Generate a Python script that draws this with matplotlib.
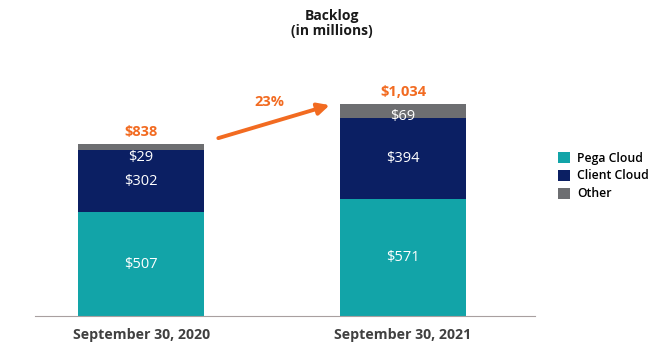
import matplotlib
matplotlib.use("Agg")
import matplotlib.pyplot as plt
import numpy as np

plt.rcParams["font.family"] = ["Open Sans", "DejaVu Sans"]

categories = ["September 30, 2020", "September 30, 2021"]
series_names = ["Pega Cloud", "Client Cloud", "Other"]
pega_cloud = [507, 571]
client_cloud = [302, 394]
other = [29, 69]

COLORS = ["#12A4A8", "#0B1F63", "#6D6E71"]
ORANGE = "#F26B21"
BAR_W = 0.48
# vertical nudge (points) of the "Other" labels relative to top of client cloud
OTHER_LABEL_OFFSETS = [-5.5, 1]


def main():
    fig = plt.figure(figsize=(6.61, 3.51), dpi=100)
    W, H = 661, 351
    ax = fig.add_axes([35 / W, 35 / H, 500 / W, 266 / H])

    x = np.arange(len(categories))
    series = [pega_cloud, client_cloud, other]
    bottom = np.zeros(len(categories))
    for vals, name, col in zip(series, series_names, COLORS):
        ax.bar(x, vals, BAR_W, bottom=bottom, color=col, label=name,
               edgecolor="none")
        bottom += np.array(vals)
    totals = bottom

    # value labels inside segments
    for i in range(len(categories)):
        ax.text(x[i], pega_cloud[i] / 2, f"${pega_cloud[i]:,}", ha="center",
                va="center", color="white", fontsize=10.5)
        ax.text(x[i], pega_cloud[i] + client_cloud[i] / 2, f"${client_cloud[i]:,}",
                ha="center", va="center", color="white", fontsize=10.5)
        ax.annotate(f"${other[i]:,}", (x[i], pega_cloud[i] + client_cloud[i]),
                    xytext=(0, OTHER_LABEL_OFFSETS[i]), textcoords="offset points",
                    ha="center", va="center", color="white", fontsize=10.5)
        ax.annotate(f"${int(totals[i]):,}", (x[i], totals[i]), xytext=(0, 9),
                    textcoords="offset points", ha="center", va="center",
                    color=ORANGE, fontsize=10.5, fontweight="bold")

    # growth arrow
    growth = totals[1] / totals[0] - 1
    ax.annotate("", xy=(x[1] - BAR_W / 2 - 0.04, totals[1] - 5),
                xytext=(x[0] + BAR_W / 2 + 0.055, totals[0] + 30),
                arrowprops=dict(arrowstyle="-|>,head_length=0.7,head_width=0.35",
                                color=ORANGE, lw=2.8, shrinkA=0, shrinkB=0))
    ax.text((x[0] + x[1]) / 2 - 0.01, totals[1] + 10, f"{growth:.0%}", ha="center",
            va="center", color=ORANGE, fontsize=10.5, fontweight="bold")

    ax.set_xlim(-0.405, 1.504)
    ax.set_ylim(0, 1298)
    ax.set_xticks(x)
    ax.set_xticklabels(categories, fontsize=10.2, fontweight="bold", color="#404040")
    ax.tick_params(axis="x", length=0, pad=9)
    ax.set_yticks([])
    for s in ["top", "right", "left"]:
        ax.spines[s].set_visible(False)
    ax.spines["bottom"].set_color("#A8A0A0")
    ax.spines["bottom"].set_linewidth(0.8)

    fig.text(332 / W, 1 - 16 / H, "Backlog", ha="center", va="center",
             fontsize=10, fontweight="bold", color="#1A1A1A")
    fig.text(332 / W, 1 - 31 / H, "(in millions)", ha="center", va="center",
             fontsize=10, fontweight="bold", color="#1A1A1A")

    fig.legend(loc="center left", bbox_to_anchor=(547 / W, 1 - 176 / H),
               frameon=False, handlelength=0.95, handleheight=1.0,
               handletextpad=0.6, labelspacing=0.4,
               prop={"weight": "semibold", "size": 8.8})

    fig.savefig("out.png", dpi=100)
    plt.close(fig)


if __name__ == "__main__":
    main()
